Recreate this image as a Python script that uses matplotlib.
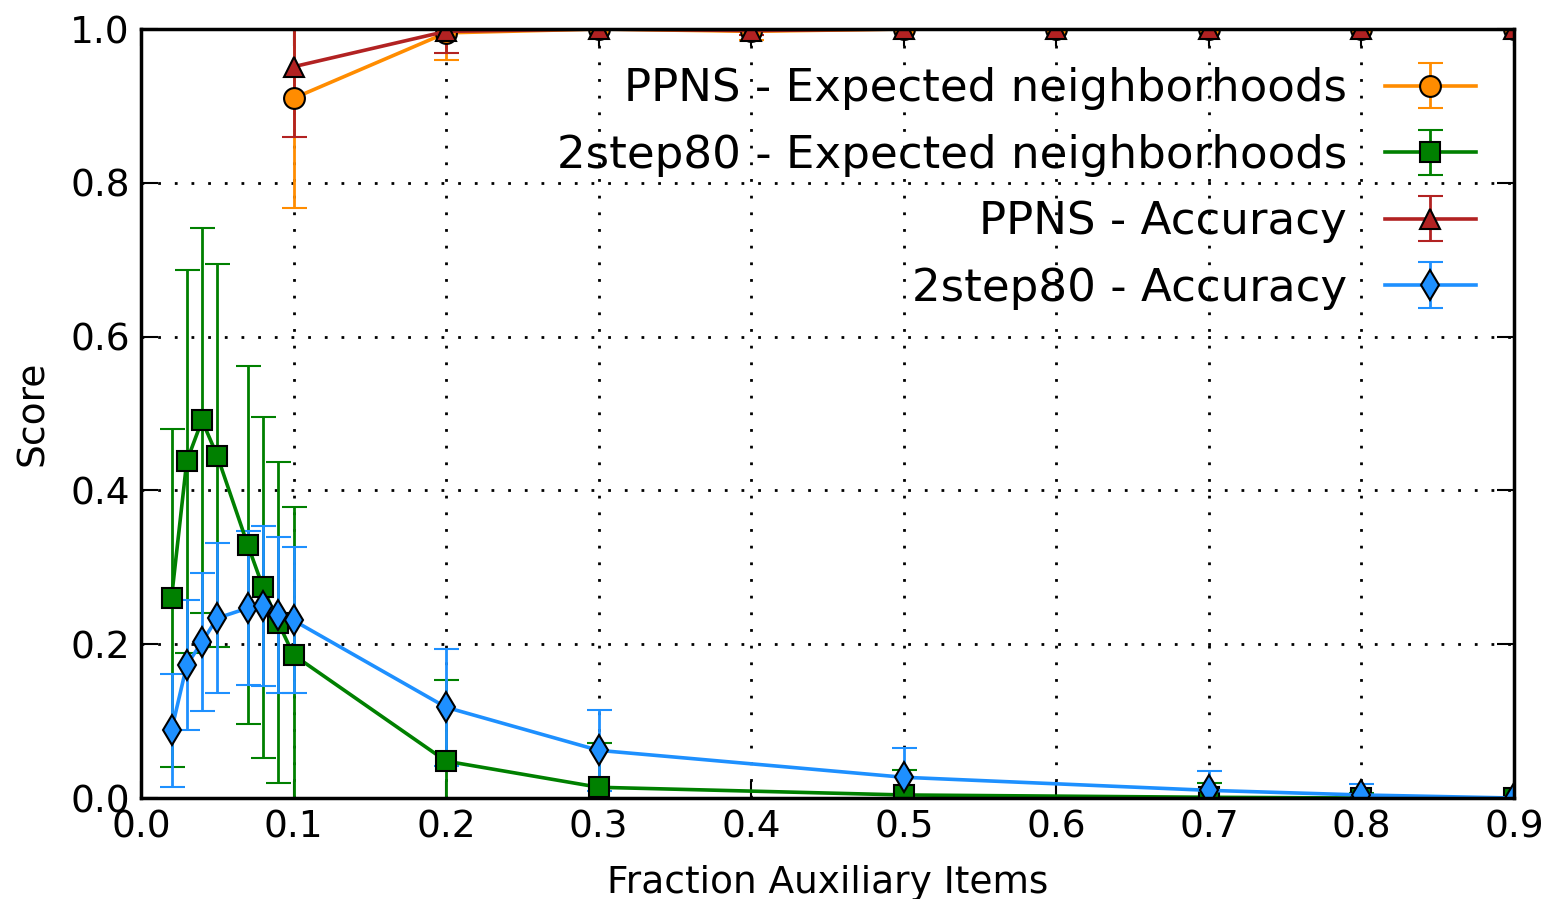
import matplotlib
matplotlib.use("Agg")
import matplotlib.pyplot as plt
import numpy as np

# fraction of auxiliary items
x_ppns = [0.1, 0.2, 0.3, 0.4, 0.5, 0.6, 0.7, 0.8, 0.9]
x_2step = [0.02, 0.03, 0.04, 0.05, 0.07, 0.08, 0.09, 0.1, 0.2, 0.3, 0.5, 0.7, 0.8, 0.9]

# PPNS scores
ppns_exp = [0.910, 0.995, 1.0, 0.997, 1.0, 1.0, 1.0, 1.0, 1.0]
ppns_exp_err = [0.143, 0.035, 0.0, 0.011, 0.0, 0.0, 0.0, 0.0, 0.0]
ppns_acc = [0.951, 0.997, 1.0, 0.998, 1.0, 1.0, 1.0, 1.0, 1.0]
ppns_acc_err = [0.091, 0.028, 0.0, 0.006, 0.0, 0.0, 0.0, 0.0, 0.0]

# 2step80 scores
step_exp = [0.260, 0.438, 0.491, 0.445, 0.329, 0.274, 0.228, 0.186,
            0.048, 0.014, 0.004, 0.001, 0.0, 0.0]
step_exp_err = [0.220, 0.249, 0.250, 0.249, 0.233, 0.222, 0.209, 0.192,
                0.105, 0.058, 0.032, 0.018, 0.006, 0.0]
step_acc = [0.088, 0.173, 0.203, 0.234, 0.247, 0.250, 0.238, 0.231,
            0.118, 0.062, 0.027, 0.010, 0.004, 0.0]
step_acc_err = [0.073, 0.085, 0.090, 0.098, 0.100, 0.104, 0.101, 0.095,
                0.076, 0.053, 0.038, 0.025, 0.014, 0.0]

fig = plt.figure(figsize=(15.46, 8.99), dpi=100)
ax = fig.add_axes([0.0912, 0.1123, 0.8881, 0.8554])

common = dict(lw=2.6, elinewidth=2, capsize=9, capthick=2,
              markeredgecolor="black", markeredgewidth=1.5, markersize=15)

ax.errorbar(x_ppns, ppns_exp, yerr=ppns_exp_err, color="darkorange", marker="o",
            label="PPNS - Expected neighborhoods", **common)
ax.errorbar(x_2step, step_exp, yerr=step_exp_err, color="green", marker="s",
            label="2step80 - Expected neighborhoods", **common)
ax.errorbar(x_ppns, ppns_acc, yerr=ppns_acc_err, color="#b22222", marker="^",
            label="PPNS - Accuracy", **common)
ax.errorbar(x_2step, step_acc, yerr=step_acc_err, color="dodgerblue", marker="d",
            label="2step80 - Accuracy", **common)

ax.set_xlim(0, 0.9)
ax.set_ylim(0, 1.0)
ax.set_xticks(np.arange(0, 0.91, 0.1))
ax.set_yticks(np.arange(0, 1.01, 0.2))
ax.xaxis.set_major_formatter(plt.FormatStrFormatter("%.1f"))
ax.yaxis.set_major_formatter(plt.FormatStrFormatter("%.1f"))
ax.tick_params(direction="in", length=12, width=1.5, labelsize=27,
               top=True, right=True, pad=8)
ax.grid(True, color="black", linestyle=(0, (1, 5)), linewidth=2)
for s in ax.spines.values():
    s.set_linewidth(2.5)

ax.set_xlabel("Fraction Auxiliary Items", fontsize=27, labelpad=14)
ax.set_ylabel("Score", fontsize=27, labelpad=14)

ax.legend(loc="upper right", frameon=False, markerfirst=False, fontsize=32.5,
          handlelength=2.0, handletextpad=0.85, labelspacing=0.52,
          borderaxespad=0.45)

fig.savefig("out.png", dpi=100)
